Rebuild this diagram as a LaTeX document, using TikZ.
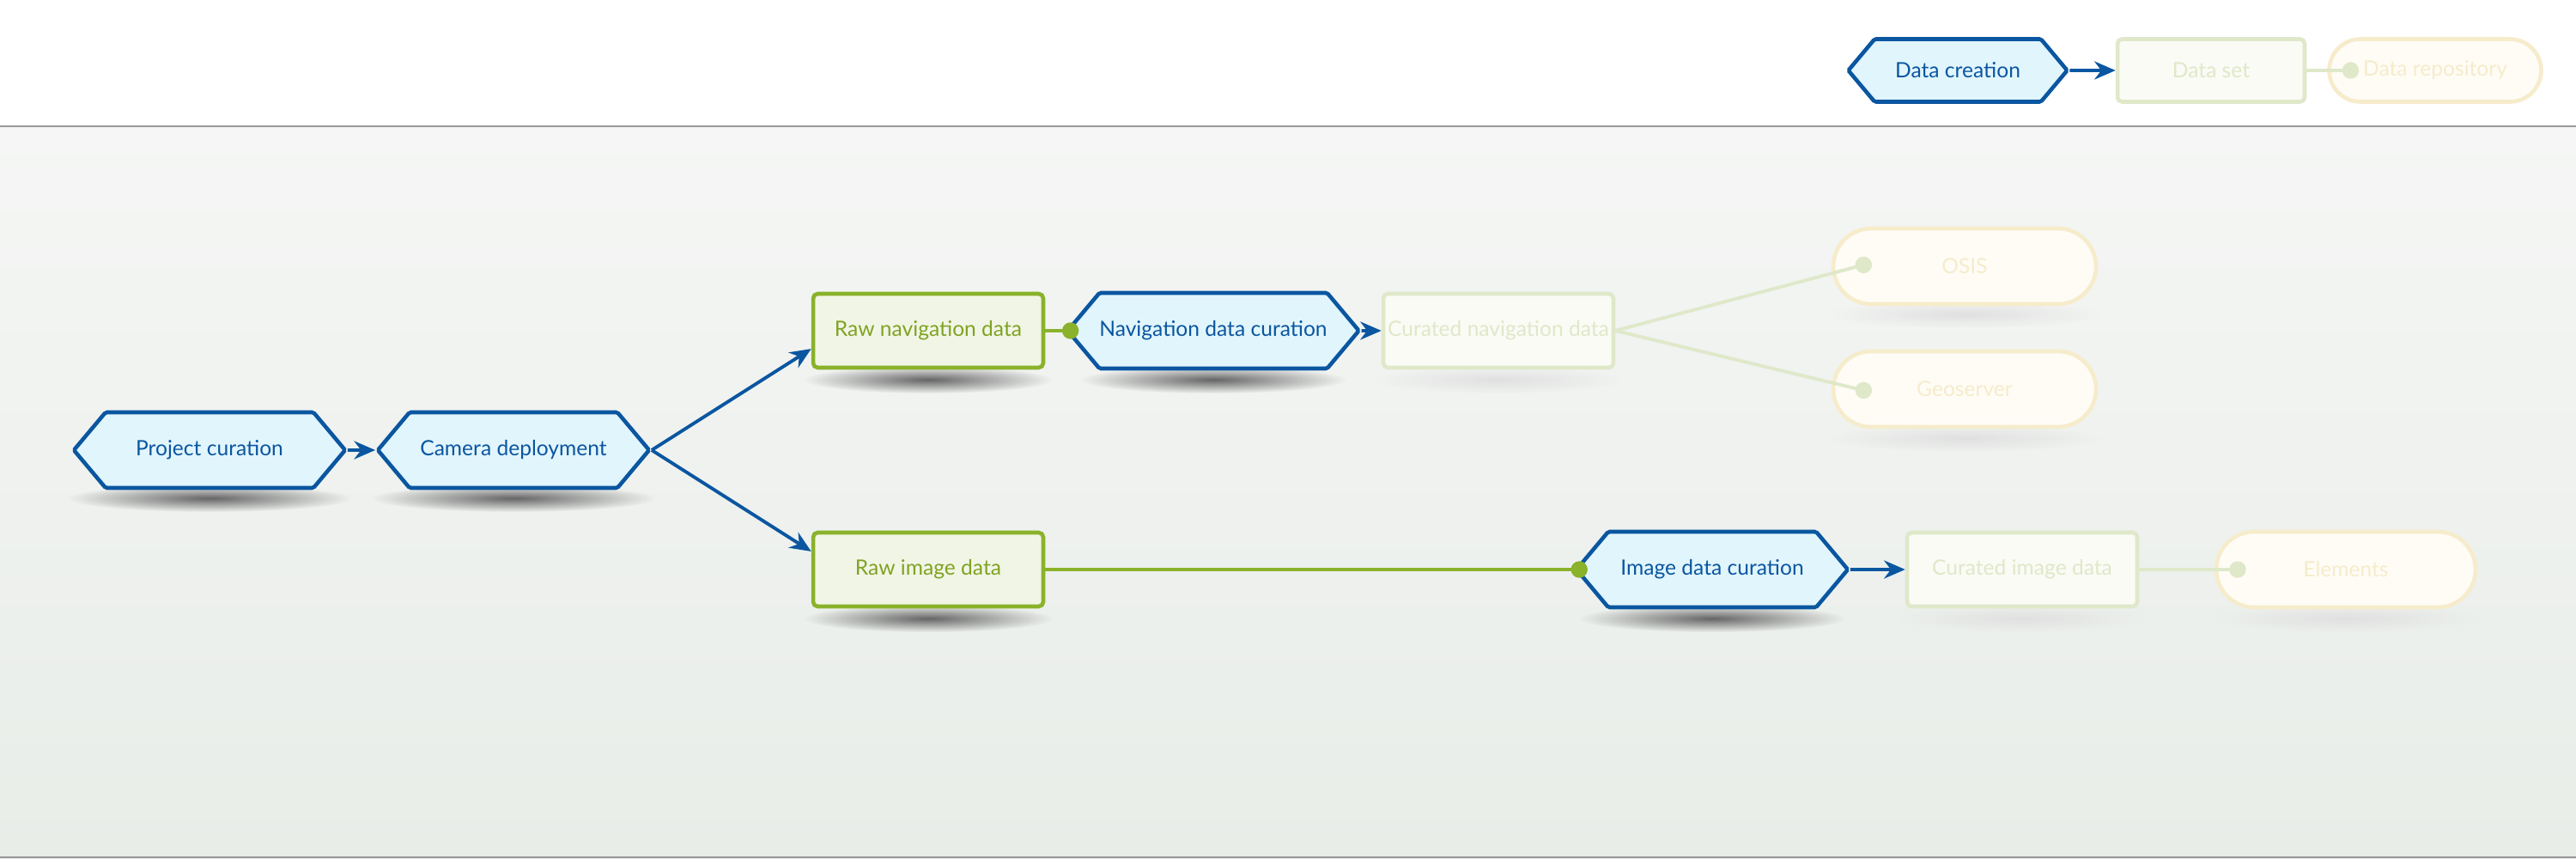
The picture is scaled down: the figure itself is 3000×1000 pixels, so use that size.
\documentclass[tikz,border=0pt]{standalone}
\usepackage{fontspec}
\setmainfont{Lato}
\usetikzlibrary{shapes.symbols, shapes.misc, arrows.meta, positioning, fadings}

\definecolor{curblue}{HTML}{0A56A0}
\definecolor{curbluefill}{HTML}{E1F5FC}
\definecolor{rawgreen}{HTML}{8AB22A}
\definecolor{rawgreentext}{HTML}{7FA322}
\definecolor{rawgreenfill}{HTML}{F1F5E5}
\definecolor{fadegreen}{HTML}{DFE8C9}
\definecolor{fadegreenfill}{HTML}{FAFBF5}
\definecolor{fadeyellow}{HTML}{F6ECCB}
\definecolor{fadeyellowfill}{HTML}{FEFCF5}
\definecolor{bgtop}{HTML}{F5F6F5}
\definecolor{bgbottom}{HTML}{E8EDE8}

\tikzfading[name=softshadow, inner color=transparent!0, outer color=transparent!100]

\tikzset{
    process/.style={signal, signal to=east and west, signal pointer angle=100,
        draw=curblue, fill=curbluefill, text=curblue, line width=2.6pt,
        rounded corners=1pt, minimum width=6.32cm, minimum height=1.76cm, inner sep=0pt},
    dataset/.style={rectangle, draw=rawgreen, fill=rawgreenfill, text=rawgreentext,
        line width=2.6pt, rounded corners=3pt, minimum width=5.36cm, minimum height=1.72cm, inner sep=0pt},
    fadeset/.style={dataset, draw=fadegreen, fill=fadegreenfill, text=fadegreen},
    repo/.style={rounded rectangle, draw=fadeyellow, fill=fadeyellowfill, text=fadeyellow,
        line width=2.6pt, minimum width=6.12cm, minimum height=1.76cm, inner sep=0pt},
    flow/.style={draw=curblue, line width=2.2pt, -{Stealth[length=14pt, width=12pt]}},
    feed/.style={draw=rawgreen, line width=2.2pt, -{Circle[length=11pt]}, shorten >=-9pt},
    fadefeed/.style={feed, draw=fadegreen},
    blurshade/.style={fill=black!60, path fading=softshadow},
    faintshade/.style={fill=black!12, path fading=softshadow}
}

\begin{document}
\begin{tikzpicture}[x=0.02cm, y=-0.02cm, font=\fontsize{14}{16}\selectfont]
    % background
    \useasboundingbox (0,0) rectangle (3000,1000);
    \fill[white] (0,0) rectangle (3000,147);
    \shade[top color=bgtop, bottom color=bgbottom] (0,147) rectangle (3000,1000);
    \draw[black!40, line width=1.2pt] (0,147) -- (3000,147);
    \draw[black!40, line width=1.2pt] (0,998) -- (3000,998);

    % legend
    \node[process, minimum width=5.1cm, minimum height=1.46cm] (legcreate) at (2280,82) {Data creation};
    \node[fadeset, minimum width=4.36cm, minimum height=1.46cm] (legset) at (2575,82) {Data set};
    \node[repo, minimum width=4.94cm, minimum height=1.46cm] (legrepo) at (2836,82) {Data repository};
    \draw[flow] (legcreate) -- (legset);
    \draw[fadefeed] (legset.east) -- ([xshift=12pt]legrepo.west);

    % shadows
    \foreach \x/\y/\w in {244/580/330, 598/580/330, 1081/442/290, 1413/442/310, 1081/720/290, 1994/720/310} {
        \fill[blurshade] (\x,\y) ellipse ({\w/2} and 16);
    }
    \foreach \x/\y/\w in {1745/442/290, 2288/366/320, 2288/510/320, 2355/720/290, 2732/720/310} {
        \fill[faintshade] (\x,\y) ellipse ({\w/2} and 16);
    }

    % nodes
    \node[process] (project) at (244,524) {Project curation};
    \node[process] (camera) at (598,524) {Camera deployment};
    \node[dataset] (rawnav) at (1081,385) {Raw navigation data};
    \node[process] (navcur) at (1413,385) {Navigation data curation};
    \node[fadeset] (curnav) at (1745,385) {Curated navigation data};
    \node[repo] (osis) at (2288,310) {OSIS};
    \node[repo] (geo) at (2288,453) {Geoserver};
    \node[dataset] (rawimg) at (1081,663) {Raw image data};
    \node[process] (imgcur) at (1994,663) {Image data curation};
    \node[fadeset] (curimg) at (2355,663) {Curated image data};
    \node[repo, minimum width=6.04cm] (elements) at (2732,663) {Elements};

    % connectors
    \draw[flow] (project) -- (camera);
    \draw[flow] (camera.east) -- ([yshift=-12pt]rawnav.west);
    \draw[flow] (camera.east) -- ([yshift=12pt]rawimg.west);
    \draw[feed] (rawnav) -- (navcur.west);
    \draw[flow] (navcur) -- (curnav);
    \draw[feed] (rawimg) -- (imgcur.west);
    \draw[flow] (imgcur) -- (curimg);
    \draw[fadefeed] (curnav.east) -- ([xshift=18pt]osis.west);
    \draw[fadefeed] (curnav.east) -- ([xshift=18pt]geo.west);
    \draw[fadefeed] (curimg.east) -- ([xshift=12pt]elements.west);
\end{tikzpicture}
\end{document}
